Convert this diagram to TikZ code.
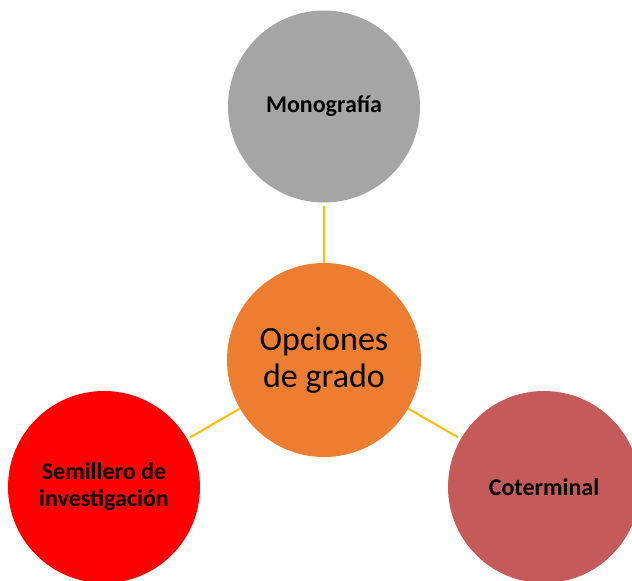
\documentclass[tikz,border=0pt]{standalone}
\usepackage{fontspec}
\setmainfont{Carlito}
\usetikzlibrary{positioning}

\definecolor{gris}{HTML}{A5A5A5}
\definecolor{naranja}{HTML}{ED7D31}
\definecolor{rojo}{HTML}{FF0000}
\definecolor{rosa}{HTML}{C55A5A}
\definecolor{oro}{HTML}{FFC000}

\begin{document}
\begin{tikzpicture}[
    % GLOBAL CFG
    x=1pt, y=-1pt,
    % Styles
    opcion/.style={% For the outer circles
        circle,
        minimum size=192pt,
        inner sep=0pt,
        align=center,
        font=\bfseries\fontsize{24}{27}\selectfont,
        },
    centro/.style={% For the middle circle
        circle,
        minimum size=194pt,
        inner sep=0pt,
        align=center,
        font=\fontsize{34}{37}\selectfont,
        },
    enlace/.style={% Lines from the middle
        draw=oro,
        line width=2pt,
        shorten >=3pt,
        },
    ]
    \useasboundingbox (0,0) rectangle (632,581);
    \clip (0,0) rectangle (632,581);

    % Draw the circles
    \node [centro, fill=naranja] (grado) at (324,360) {Opciones\\de grado};
    \node [opcion, fill=gris] (mono) at (324,106.5) {Monografía};
    \node [opcion, fill=rojo] (semi) at (104,487) {Semillero de\\investigación};
    \node [opcion, fill=rosa] (coter) at (544,487) {Coterminal};

    % Connecting all
    \draw [enlace] (grado) -- (mono);
    \draw [enlace] (grado) -- (semi);
    \draw [enlace] (grado) -- (coter);
\end{tikzpicture}
\end{document}
